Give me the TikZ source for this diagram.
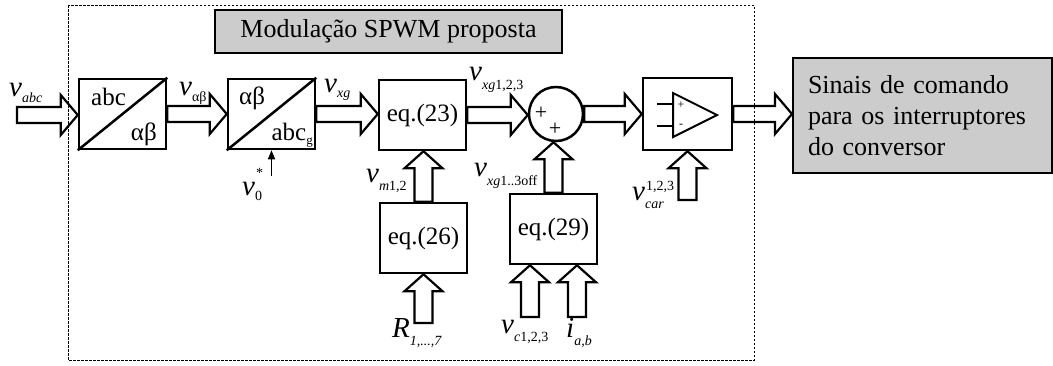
\documentclass[tikz,border=0pt]{standalone}
\usepackage{fontspec}
\setmainfont{Liberation Serif}
\usetikzlibrary{calc,arrows.meta}
\newcommand\fs[1]{\fontsize{#1}{#1}\selectfont}
\newcommand\sig[3][7pt]{{\fs{29}\textit{#2}}{\fs{14}\raisebox{-#1}{#3}}}
\newcommand\harr[2]{\draw[barrow] let \p1=(#1), \p2=(#2) in
  (\x1,\y1+8pt) -- (\x2-17pt,\y1+8pt) -- (\x2-17pt,\y1+20pt) -- (\x2,\y1)
  -- (\x2-17pt,\y1-20pt) -- (\x2-17pt,\y1-8pt) -- (\x1,\y1-8pt) -- cycle;}
\newcommand\varr[2]{\draw[barrow] let \p1=(#1), \p2=(#2) in
  (\x1-9pt,\y1) -- (\x1-9pt,\y2-17pt) -- (\x1-19pt,\y2-17pt) -- (\x1,\y2)
  -- (\x1+19pt,\y2-17pt) -- (\x1+9pt,\y2-17pt) -- (\x1+9pt,\y1) -- cycle;}
\begin{document}
\begin{tikzpicture}[x=1pt,y=-1pt,
  blk/.style={draw, line width=2.5pt, minimum width=87pt, minimum height=70pt, inner sep=0pt, font=\fs{25}},
  barrow/.style={draw, fill=white, line width=2.2pt, line join=miter},
  lbl/.style={inner sep=0pt, anchor=base west},
  suplbl/.style={inner sep=0pt, anchor=base west, font=\fs{14}},
  txt/.style={inner sep=0pt, font=\fs{25}},
  graybox/.style={draw, line width=2pt, fill=boxgray, inner sep=0pt, font=\fs{26}}]
\definecolor{boxgray}{HTML}{CCCCCC}
\useasboundingbox (0,0) rectangle (1053,365);
% title
\node[graybox, minimum width=347pt, minimum height=43pt] (title) at (388.5,31.5) {Modulação SPWM proposta};
% blocks
\node[blk] (b1) at (122.5,114) {};
\draw[line width=2.5pt] (b1.south west) -- (b1.north east);
\node[txt, anchor=base west] (t1a) at (91,105) {abc};
\node[txt, anchor=base east] (t1b) at (157,140) {αβ};
\node[blk] (b2) at (271.5,114) {};
\draw[line width=2.5pt] (b2.south west) -- (b2.north east);
\node[txt, anchor=base west] (t2a) at (239,104) {αβ};
\node[txt, anchor=base east] (t2b) at (313,140) {abc{\fs{13}\raisebox{-4pt}{g}}};
\node[blk] (eq23) at (422.5,115) {eq.(23)};
\node[draw, circle, line width=2.5pt, minimum size=54pt, inner sep=0pt] (sum) at (556,114) {};
\node[inner sep=0pt, font=\fs{22}] (p1) at (541,113) {+};
\node[inner sep=0pt, font=\fs{22}] (p2) at (555,129) {+};
\node[blk, minimum width=89pt, minimum height=72pt] (comp) at (687.5,114) {};
\draw[line width=2pt] (673,93) -- (717,115) -- (673,137) -- cycle;
\draw[line width=2pt] (657,104) -- (673,104) (657,126) -- (673,126);
\node[inner sep=0pt, font=\fs{12}] (cp) at (681,105) {+};
\node[inner sep=0pt, font=\fs{12}] (cm) at (681,126) {-};
\node[blk] (eq26) at (423.5,238) {eq.(26)};
\node[blk] (eq29) at (553.5,229) {eq.(29)};
\node[graybox, minimum width=259pt, minimum height=115pt, text width=229pt, inner xsep=15pt, align=left,
  font=\fontsize{26}{31}\selectfont] (out) at (922.5,115.5)
  {Sinais de comando\\para os interruptores\\do conversor};
% inputs
\coordinate (vin) at (17,115);
\coordinate (rin) at (423.5,323);
\coordinate (vcin) at (530,317);
\coordinate (iin) at (577,317);
\coordinate (carin) at (687.5,200);
\coordinate (v0in) at (271.5,176);
% arrows
\harr{vin}{b1.west}
\harr{b1.east}{b2.west}
\harr{b2.east}{eq23.west}
\harr{eq23.east}{sum.west}
\harr{sum.east}{comp.west}
\harr{comp.east}{out.west}
\varr{eq26.north}{eq23.south}
\varr{eq29.north}{sum.south}
\varr{rin}{eq26.south}
\varr{vcin}{eq29.south}
\varr{iin}{eq29.south}
\varr{carin}{comp.south}
\draw[line width=1.5pt, -{Triangle[length=9pt,width=7pt]}] (v0in) -- (b2.south);
% labels
\node[lbl] (lvabc) at (9,96) {\sig[6pt]{v}{\textit{abc}}};
\node[lbl] (lvab) at (179,95) {\sig[6pt]{v}{αβ}};
\node[lbl] (lvxg) at (324,92) {\sig[5pt]{v}{\textit{xg}}};
\node[lbl] (lvxg123) at (469,80) {\sig[9pt]{v}{\textit{xg}1,2,3}};
\node[lbl] (lvm) at (366,182) {\sig[8pt]{v}{\textit{m}1,2}};
\node[lbl] (lvoff) at (474,176) {\sig[9pt]{v}{\textit{xg}1..3off}};
\node[lbl] (lv0) at (242,195) {\sig[5pt]{v}{0}};
\node[suplbl] (lv0s) at (256,177) {*};
\node[lbl] (lvcar) at (632,200) {\sig[8pt]{v}{\textit{car}}};
\node[suplbl] (lvcars) at (646,190) {1,2,3};
\node[lbl] (lR) at (392,337) {\sig[8pt]{R}{\textit{1,...,7}}};
\node[lbl] (lvc) at (501,333) {\sig[8pt]{v}{\textit{c}1,2,3}};
\node[lbl] (li) at (566,337) {\sig[8pt]{i}{\textit{a,b}}};
% dotted border
\draw[line width=1pt, dash pattern=on 2.5pt off 1.5pt] (68,5) rectangle (754,360);
\end{tikzpicture}
\end{document}
